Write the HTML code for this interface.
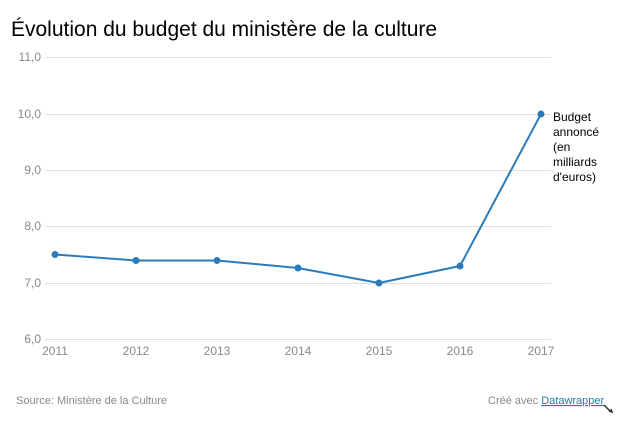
<!DOCTYPE html>
<html><head><meta charset="utf-8"><style>
body{margin:0;width:618px;height:423px;background:#fff;overflow:hidden;font-family:"Liberation Sans",sans-serif;}
</style></head><body>
<svg width="618" height="423" xmlns="http://www.w3.org/2000/svg" style="position:absolute;left:0;top:0">
<text x="11" y="36" font-size="21" fill="#000" font-family="Liberation Sans">Évolution du budget du ministère de la culture</text>
<g stroke="#e0e0e0" stroke-width="1">
<line x1="45" y1="57.5" x2="551" y2="57.5"/>
<line x1="45" y1="114.5" x2="551" y2="114.5"/>
<line x1="45" y1="170.5" x2="551" y2="170.5"/>
<line x1="45" y1="226.5" x2="551" y2="226.5"/>
<line x1="45" y1="283.5" x2="551" y2="283.5"/>
<line x1="45" y1="339.5" x2="551" y2="339.5"/>
</g>
<g font-size="12" fill="#888" text-anchor="end" font-family="Liberation Sans">
<text x="41" y="61">11,0</text>
<text x="41" y="118">10,0</text>
<text x="41" y="174">9,0</text>
<text x="41" y="230">8,0</text>
<text x="41" y="287">7,0</text>
<text x="41" y="343">6,0</text>
</g>
<g font-size="12" fill="#888" text-anchor="middle" font-family="Liberation Sans">
<text x="55" y="355">2011</text>
<text x="136" y="355">2012</text>
<text x="217" y="355">2013</text>
<text x="298" y="355">2014</text>
<text x="379" y="355">2015</text>
<text x="460" y="355">2016</text>
<text x="541" y="355">2017</text>
</g>
<polyline fill="none" stroke="#2b7bba" stroke-width="2" points="55,254.5 136,260.5 217,260.5 298,268 379,283 460,266 541,114"/>
<g fill="#2b7bba">
<circle cx="55" cy="254.5" r="3.5"/><circle cx="136" cy="260.5" r="3.5"/><circle cx="217" cy="260.5" r="3.5"/>
<circle cx="298" cy="268" r="3.5"/><circle cx="379" cy="283" r="3.5"/><circle cx="460" cy="266" r="3.5"/><circle cx="541" cy="114" r="3.5"/>
</g>
<g font-size="12" fill="#000" font-family="Liberation Sans">
<text x="553" y="121">Budget</text>
<text x="553" y="136">annoncé</text>
<text x="553" y="151">(en</text>
<text x="553" y="166">milliards</text>
<text x="553" y="181">d'euros)</text>
</g>
<text x="16" y="404" font-size="11" fill="#888" font-family="Liberation Sans">Source: Ministère de la Culture</text>
<text x="488" y="404" font-size="11" fill="#888" font-family="Liberation Sans">Créé avec <tspan fill="#1d81a2" text-decoration="underline">Datawrapper</tspan></text>
<path d="M604 405 L611 412 M609 411 L612 412 L611 409" stroke="#333" stroke-width="1.5" fill="none"/>
</svg>
</body></html>
